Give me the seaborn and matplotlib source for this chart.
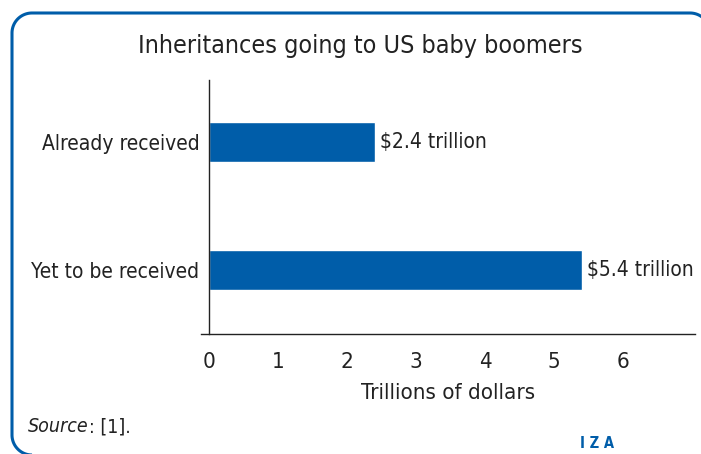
import matplotlib
matplotlib.use("Agg")
import matplotlib.pyplot as plt
import seaborn as sns
import pandas as pd
import numpy as np
from matplotlib.lines import Line2D

categories = ["Already received", "Yet to be received"]
values = [2.4, 5.4]
value_labels = ["$2.4 trillion", "$5.4 trillion"]
xticks = [0, 1, 2, 3, 4, 5, 6]

sns.set_theme(style="white")
plt.rcParams['font.family'] = ['DejaVu Sans']
plt.rcParams['font.stretch'] = 'condensed'
plt.rcParams['text.parse_math'] = False

blue = "#005DA9"
dark = "#222222"

fig = plt.figure(figsize=(7.01, 4.54), dpi=100)
W, H = 701, 454
ax = fig.add_axes([201 / W, 1 - 334 / H, (695 - 201) / W, (334 - 80) / H])

df = pd.DataFrame({"cat": categories, "val": values})
sns.barplot(data=df, x="val", y="cat", orient="h", color=blue, width=0.3125,
            saturation=1, ax=ax)

ax.set_xlim(-0.116, 7.04)
ax.set_ylim(1.5, -0.484)
ax.set_xticks(xticks)
ax.set_xticklabels([str(t) for t in xticks])
ax.tick_params(axis="x", direction="out", length=6, width=1, color=dark, pad=7,
               labelsize=16, labelcolor=dark)
ax.tick_params(axis="y", length=0, pad=7, labelsize=15, labelcolor=dark)
ax.set_xlabel("Trillions of dollars", fontsize=16, color=dark, labelpad=8)
ax.set_ylabel("")

for s in ["top", "right"]:
    ax.spines[s].set_visible(False)
ax.spines["left"].set_position(("data", 0))
ax.spines["left"].set_color(dark)
ax.spines["bottom"].set_color(dark)
ax.spines["left"].set_linewidth(1)
ax.spines["bottom"].set_linewidth(1)

for i, (v, lab) in enumerate(zip(values, value_labels)):
    ax.text(v + 0.08, i, lab, va="center", ha="left", fontsize=15, color=dark)

fig.text(360 / W, 1 - 46 / H, "Inheritances going to US baby boomers",
         ha="center", va="center", fontsize=18, color=dark)

src = fig.text(28 / W, 1 - 427 / H, "Source", ha="left", va="center", fontsize=14,
               color=dark, style="italic")
fig.canvas.draw()
bb = src.get_window_extent()
fig.text(bb.x1 / W + 0.001, 1 - 427 / H, ": [1].", ha="left", va="center",
         fontsize=14, color=dark)
fig.text(597 / W, 1 - 443 / H, "I Z A", ha="center", va="center", fontsize=10.5,
         color=blue, fontweight="bold")

# rounded frame (pixel geometry, y measured from top)
L, T, R, B, r = 12, 13, 710, 455, 20
def arc(cx, cy, a0, a1):
    t = np.linspace(np.radians(a0), np.radians(a1), 30)
    return cx + r * np.cos(t), cy - r * np.sin(t)
xs, ys = [], []
x1, y1 = arc(L + r, B - r, 180, 270)
xs += [*x1[::-1]]; ys += [*y1[::-1]]
x2, y2 = arc(L + r, T + r, 90, 180)
xs += [*x2[::-1]]; ys += [*y2[::-1]]
x3, y3 = arc(R - r, T + r, 0, 90)
xs += [*x3[::-1]]; ys += [*y3[::-1]]
xs = np.array(xs); ys = np.array(ys)
fig.add_artist(Line2D(xs / W, 1 - ys / H, transform=fig.transFigure,
                      color=blue, linewidth=2.2, solid_capstyle="butt"))

fig.savefig("out.png", dpi=100)
